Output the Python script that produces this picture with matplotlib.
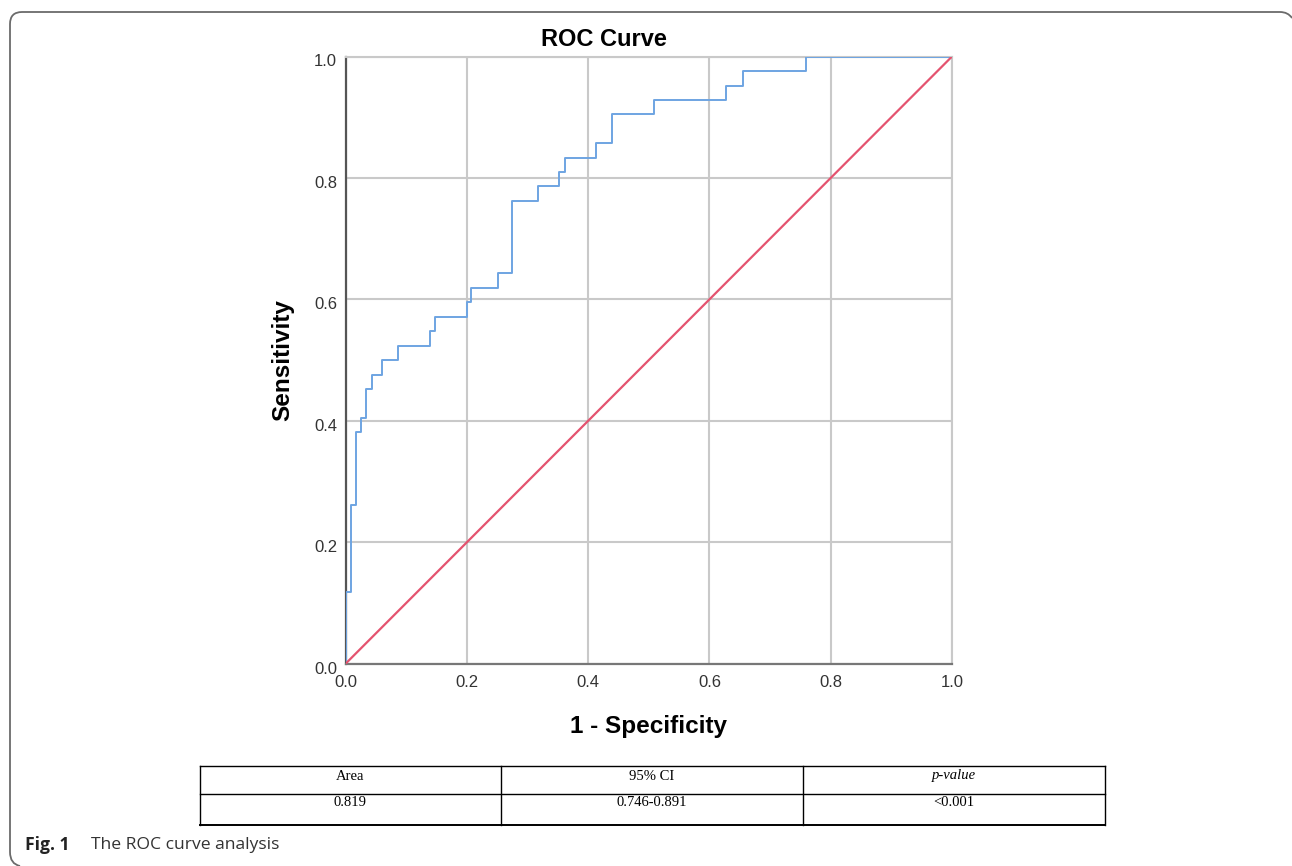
import matplotlib
matplotlib.use('Agg')
import matplotlib.pyplot as plt
from matplotlib.path import Path
from matplotlib.patches import PathPatch
from matplotlib.transforms import ScaledTranslation

# ── ROC data (x of each vertical step, top of that step) ──
fpr = [0.0, 0.0, 0.0094, 0.0166, 0.0249, 0.0343, 0.0436, 0.0602, 0.0867,
       0.139, 0.1475, 0.200, 0.207, 0.251, 0.275, 0.318, 0.352, 0.362,
       0.413, 0.439, 0.509, 0.628, 0.656, 0.759, 1.0]
tpr = [0.0, 0.119, 0.262, 0.381, 0.405, 0.452, 0.476, 0.500, 0.524,
       0.548, 0.571, 0.595, 0.619, 0.643, 0.762, 0.786, 0.810, 0.833,
       0.857, 0.905, 0.929, 0.952, 0.976, 1.0, 1.0]
ref_x = [0.0, 1.0]
ref_y = [0.0, 1.0]

ticks       = [0.0, 0.2, 0.4, 0.6, 0.8, 1.0]
tick_labels = ['0.0', '0.2', '0.4', '0.6', '0.8', '1.0']

table_head = ['Area', '95% CI', 'p-value']
table_row  = ['0.819', '0.746-0.891', '<0.001']

ROC_COLOR  = '#6ea4e2'
REF_COLOR  = '#e4536f'
GRID_COLOR = '#c9c9c9'
SANS       = 'Liberation Sans'

W, H = 1292, 866
fig = plt.figure(figsize=(W / 100, H / 100), dpi=100)

# ── overlay in pixel coords for frame, table, caption ──
bg = fig.add_axes([0, 0, 1, 1], zorder=0)
bg.set_xlim(0, W)
bg.set_ylim(H, 0)
bg.axis('off')

# rounded frame (left + top, curl at both ends)
verts = [(20, 866), (10, 864), (10, 852), (10, 24), (10, 12), (22, 12),
         (1280, 12), (1288, 12), (1292, 18)]
codes = [Path.MOVETO, Path.CURVE3, Path.CURVE3, Path.LINETO, Path.CURVE3, Path.CURVE3,
         Path.LINETO, Path.CURVE3, Path.CURVE3]
bg.add_patch(PathPatch(Path(verts, codes), fill=False, edgecolor='#6b6b6b', lw=1.3))

# table
tx = [200, 501, 803, 1105]
ty = [766, 794, 825]
for y in ty:
    bg.plot([tx[0], tx[-1]], [y, y], color='black', lw=1.0 if y != ty[-1] else 1.4)
for x in tx:
    bg.plot([x, x], [ty[0], ty[-1]], color='black', lw=1.0)
for i in range(3):
    cx = (tx[i] + tx[i + 1]) / 2
    bg.text(cx, 776, table_head[i], ha='center', va='center',
            family='Liberation Serif', fontsize=10.5,
            style='italic' if table_head[i] == 'p-value' else 'normal')
    bg.text(cx, 803, table_row[i], ha='center', va='center',
            family='Liberation Serif', fontsize=10.5)

# caption
bg.text(25, 845, 'Fig. 1', ha='left', va='center', family='Open Sans',
        fontsize=12.6, fontweight='bold', color='#222222')
bg.text(91, 845, 'The ROC curve analysis', ha='left', va='center',
        family='Open Sans', fontsize=12.6, color='#333333')

# ── ROC axes ──
x0, x1 = 345.5, 952.0
y0, y1 = 663.8, 56.5
ax = fig.add_axes([x0 / W, 1 - y0 / H, (x1 - x0) / W, (y0 - y1) / H], zorder=1)
ax.patch.set_alpha(0)

ax.plot(fpr, tpr, drawstyle='steps-post', color=ROC_COLOR, lw=1.4, zorder=3)
ax.plot(ref_x, ref_y, color=REF_COLOR, lw=1.6, zorder=3)

ax.set_xlim(0, 1)
ax.set_ylim(0, 1)
ax.set_xticks(ticks)
ax.set_yticks(ticks)
ax.set_xticklabels(tick_labels, fontsize=12, family=SANS, color='#333333')
ax.set_yticklabels(tick_labels, fontsize=12, family=SANS, color='#333333')
ax.tick_params(axis='x', length=0, pad=8)
ax.tick_params(axis='y', length=0, pad=6)
# SPSS puts the y labels a little below their grid line
shift = ScaledTranslation(0, -4 / 100, fig.dpi_scale_trans)
for lbl in ax.get_yticklabels():
    lbl.set_transform(lbl.get_transform() + shift)

ax.grid(True, color=GRID_COLOR, lw=1.5, zorder=1)
ax.set_axisbelow(True)
for side in ['top', 'right']:
    ax.spines[side].set_color(GRID_COLOR)
    ax.spines[side].set_linewidth(1.5)
ax.spines['left'].set_color('#555555')
ax.spines['left'].set_linewidth(1.6)
ax.spines['bottom'].set_color('#777777')
ax.spines['bottom'].set_linewidth(1.6)

ax.set_xlabel('1 - Specificity', fontsize=17.5, fontweight='bold', family=SANS)
ax.set_ylabel('Sensitivity', fontsize=17.5, fontweight='bold', family=SANS)
ax.xaxis.set_label_coords(0.5, -(727 - y0) / (y0 - y1))
ax.xaxis.label.set_va('center')
ax.yaxis.set_label_coords(-(x0 - 283) / (x1 - x0), 0.5)
ax.yaxis.label.set_va('center')

fig.text(604 / W, 1 - 39 / H, 'ROC Curve', ha='center', va='center',
         fontsize=17, fontweight='bold', family=SANS)

fig.savefig('out.png', dpi=100)
